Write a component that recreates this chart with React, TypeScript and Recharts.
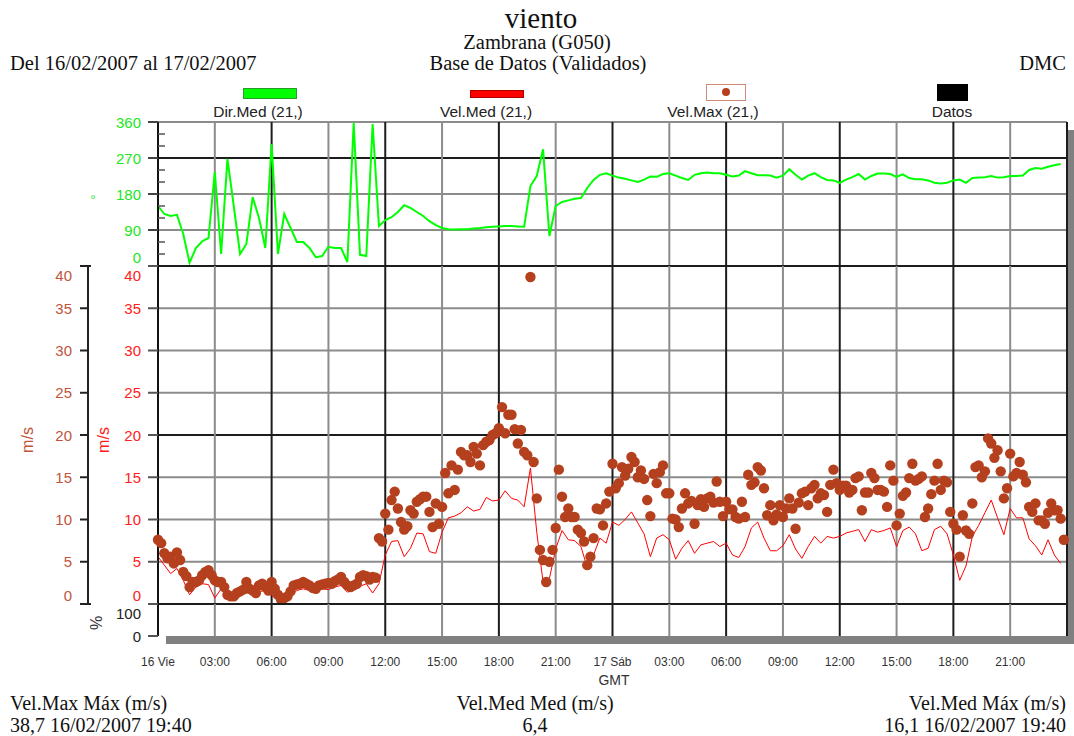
import React from 'react';
import { ComposedChart, Line, Scatter, XAxis, YAxis, CartesianGrid } from 'recharts';

const FONT_SANS = '"Liberation Sans", Arial, sans-serif';
const FONT_SERIF = '"Liberation Serif", "Times New Roman", serif';

const GREEN = '#00ff00';
const GREEN_TXT = '#22e622';
const RED = '#ff0000';
const RED_TXT = '#ff2020';
const BROWN = '#b5401e';
const BROWN_TXT = '#c0553a';
const GRID_DARK = '#1c1c1c';
const GRID_LIGHT = '#8c8c8c';

// eje de tiempo (horas desde 16/02 00:00 GMT)
const hourTicks = [0, 3, 6, 9, 12, 15, 18, 21, 24, 27, 30, 33, 36, 39, 42, 45, 48];
const hourLabels = ['16 Vie', '03:00', '06:00', '09:00', '12:00', '15:00', '18:00', '21:00',
  '17 Sáb', '03:00', '06:00', '09:00', '12:00', '15:00', '18:00', '21:00', ''];

const dirTicks = [0, 30, 60, 90, 120, 150, 180, 210, 240, 270, 300, 330, 360];
const speedTicks = [0, 5, 10, 15, 20, 25, 30, 35, 40];
const pctTicks = [0, 100];

// Dir.Med (grados), cada 20 minutos
const dirMed = [
  150, 130, 125, 128, 80, 8, 45, 62, 70,
  235, 30, 268, 150, 30, 55, 172, 120, 45,
  305, 30, 130, 95, 60, 60, 45, 22, 25,
  48, 45, 45, 10, 358, 28, 25, 355, 100,
  115, 122, 135, 152, 145, 135, 125, 112, 102,
  95, 92, 91, 92, 92, 94, 95, 97, 98,
  99, 100, 100, 99, 98, 200, 225, 292, 75,
  150, 160, 164, 168, 170, 195, 215, 228, 232,
  226, 221, 218, 214, 210, 216, 224, 223, 230,
  232, 226, 220, 215, 228, 232, 234, 232, 232,
  228, 224, 226, 237, 232, 227, 227, 226, 221,
  226, 242, 228, 216, 226, 232, 222, 215, 214,
  208, 216, 222, 230, 216, 225, 231, 231, 230,
  223, 229, 220, 217, 217, 214, 208, 206, 208,
  214, 216, 208, 220, 221, 222, 225, 221, 222,
  225, 225, 226, 240, 245, 243, 248, 252, 255,
];

// Vel.Med (m/s), cada 20 minutos
const velMed = [
  5.6, 4.6, 3.6, 4.2, 2.8, 1.1, 2.0, 2.4, 2.3,
  0.7, 1.8, 1.1, 0.9, 1.4, 1.8, 1.2, 1.3, 1.8,
  1.0, 0.5, 0.5, 0.9, 1.6, 1.8, 1.6, 1.5, 1.8,
  1.7, 2.0, 2.2, 1.4, 1.7, 2.1, 2.4, 1.3, 2.4,
  5.8, 7.4, 7.5, 5.6, 6.6, 8.4, 8.3, 6.2, 6.0,
  8.5, 10.2, 10.4, 10.8, 11.5, 11.0, 11.2, 12.6, 12.2,
  12.3, 13.4, 12.5, 12.3, 11.5, 16.1, 8.5, 2.6, 3.0,
  6.5, 8.7, 7.6, 7.5, 6.8, 4.3, 5.8, 7.8, 7.2,
  9.7, 9.3, 10.0, 10.9, 9.6, 8.3, 5.6, 7.8, 8.2,
  7.6, 5.3, 6.6, 7.5, 6.0, 7.0, 7.2, 7.4, 6.8,
  7.2, 5.8, 5.5, 6.8, 9.0, 9.7, 7.8, 6.3, 6.3,
  6.9, 8.2, 6.5, 5.4, 6.8, 8.0, 7.2, 8.0, 7.8,
  8.0, 8.4, 8.6, 8.8, 7.4, 8.8, 8.5, 8.7, 9.0,
  6.8, 8.7, 9.1, 8.3, 6.3, 6.6, 8.8, 9.2, 8.3,
  5.8, 2.8, 4.5, 8.0, 9.3, 10.8, 12.3, 10.2, 8.2,
  11.3, 10.2, 10.2, 7.7, 6.9, 5.8, 7.6, 5.8, 4.8,
];

// Vel.Max (m/s), cada 10 minutos
const velMax = [
  7.6, 7.2, 6.0, 5.4, 5.6, 4.8, 6.1, 5.2, 3.8, 3.3, 2.0, 2.6, 2.6, 2.8, 3.4, 3.8, 4.0, 3.4,
  2.8, 2.6, 2.6, 2.0, 1.1, 0.9, 0.9, 1.3, 1.5, 1.7, 2.6, 1.8, 1.6, 1.3, 2.2, 2.4, 2.0, 1.6,
  2.6, 1.8, 1.1, 0.5, 0.7, 0.9, 1.5, 2.2, 2.3, 2.4, 2.6, 2.4, 2.2, 1.9, 1.8, 2.2, 2.3, 2.4,
  2.5, 2.4, 2.7, 2.9, 3.2, 2.6, 2.2, 2.0, 2.2, 2.4, 3.2, 3.4, 3.3, 2.9, 3.2, 3.1, 7.8, 7.4,
  10.7, 8.8, 12.3, 13.3, 11.3, 9.7, 8.8, 9.2, 11.1, 10.7, 12.1, 12.4, 12.7, 12.7, 10.9, 9.1, 11.9, 9.5,
  11.5, 15.5, 13.1, 16.4, 13.5, 15.9, 18.0, 17.6, 17.6, 16.8, 18.6, 17.8, 16.4, 18.8, 19.2, 19.4, 20.0, 20.2,
  20.8, 23.3, 20.2, 22.4, 22.4, 20.7, 19.0, 20.6, 18.0, 17.6, 38.7, 16.8, 12.5, 6.4, 5.2, 2.6, 5.0, 6.4,
  9.0, 15.9, 12.7, 10.3, 11.3, 10.3, 10.3, 8.8, 8.4, 7.4, 4.6, 5.6, 7.8, 11.3, 11.2, 9.3, 11.9, 13.3,
  16.6, 13.7, 14.3, 16.2, 15.2, 16.0, 17.4, 16.8, 15.0, 15.8, 14.8, 12.3, 10.4, 15.4, 14.3, 15.6, 16.4, 13.1,
  13.1, 10.1, 10.0, 9.1, 11.3, 13.1, 11.9, 12.2, 9.5, 11.7, 12.4, 11.5, 12.5, 12.7, 12.0, 14.5, 12.1, 10.4,
  12.1, 11.2, 11.2, 10.3, 10.1, 12.1, 10.3, 15.3, 14.1, 14.4, 16.2, 15.8, 13.7, 10.5, 11.7, 9.9, 10.6, 11.7,
  10.3, 11.3, 12.5, 11.3, 8.9, 12.0, 13.1, 13.3, 11.7, 13.7, 14.1, 12.5, 13.1, 12.9, 10.9, 14.1, 15.9, 14.3,
  13.5, 14.0, 14.0, 13.2, 13.5, 14.9, 15.1, 11.1, 13.2, 13.2, 15.5, 14.9, 13.5, 13.5, 13.3, 11.5, 16.4, 14.6,
  9.3, 10.7, 12.8, 13.2, 14.9, 16.6, 14.6, 14.8, 15.1, 10.3, 11.3, 13.0, 14.6, 16.6, 13.5, 14.6, 14.4, 10.9,
  9.5, 8.8, 5.6, 10.5, 8.7, 8.3, 11.9, 16.2, 16.4, 15.0, 15.7, 19.6, 19.0, 17.3, 18.2, 15.7, 12.5, 13.7,
  17.8, 15.1, 15.5, 16.8, 15.3, 14.4, 11.5, 10.9, 11.9, 9.9, 9.9, 9.5, 10.8, 11.9, 11.1, 11.1, 10.1, 7.6,
];

const dirData = dirMed.map((v, i) => ({ t: i / 3, v }));
const medData = velMed.map((v, i) => ({ t: i / 3, v }));
const maxData = velMax.map((v, i) => ({ t: i / 6, v }));
const timeFrame = hourTicks.map((t) => ({ t }));

const W = 1074;
const PLOT_LEFT = 158;
const MARGIN_RIGHT = 7;

// lineas de rejilla: oscuras cada 6 h, grises cada 3 h
const verticalLine = (p: any) => {
  const h = hourTicks[p.index];
  if (h === undefined) return <g />;
  return (
    <line x1={p.x1} y1={p.y1} x2={p.x2} y2={p.y2}
      stroke={h % 6 === 0 ? GRID_DARK : GRID_LIGHT} strokeWidth={2} />
  );
};

const makeHorizontal = (ticks: number[], darkVals: number[], skip: (v: number) => boolean) =>
  (p: any) => {
    const v = ticks[p.index];
    if (v === undefined || skip(v)) return <g />;
    return (
      <line x1={p.x1} y1={p.y1} x2={p.x2} y2={p.y2}
        stroke={darkVals.includes(v) ? GRID_DARK : GRID_LIGHT} strokeWidth={2} />
    );
  };

const DirTick = (p: any) => {
  const v = p.payload.value;
  const ax = p.x + 17;
  if (v % 90 !== 0) {
    return <line x1={ax} x2={ax + 7} y1={p.y} y2={p.y} stroke="#555" strokeWidth={1.5} />;
  }
  return (
    <g>
      <line x1={ax - 10} x2={ax} y1={p.y} y2={p.y} stroke="#444" strokeWidth={2} />
      <text x={p.x} y={p.y + (v === 0 ? -9 : 0)} textAnchor="end" dominantBaseline="central"
        fill={GREEN_TXT} fontSize={15}>{v}</text>
    </g>
  );
};

const speedTick = (color: string) => (p: any) => {
  const v = p.payload.value;
  const shift = v === 40 ? 9 : v === 0 ? -9 : 0;
  return (
    <text x={p.x} y={p.y + shift} textAnchor="end" dominantBaseline="central"
      fill={color} fontSize={15}>{v}</text>
  );
};

const PctTick = (p: any) => {
  const v = p.payload.value;
  return (
    <text x={p.x} y={p.y + (v === 100 ? 9 : 0)} textAnchor="end" dominantBaseline="central"
      fill="#222" fontSize={15}>{v}</text>
  );
};

const MaxDot = (p: any) => <circle cx={p.cx} cy={p.cy} r={5.2} fill={BROWN} />;

type TxtProps = {
  x: number; y: number; children: React.ReactNode; align?: 'left' | 'center' | 'right';
  size?: number; font?: string; color?: string;
};

const Txt = ({ x, y, children, align = 'left', size = 15, font = FONT_SANS, color = '#111' }: TxtProps) => {
  const tx = align === 'left' ? '0' : align === 'center' ? '-50%' : '-100%';
  return (
    <div style={{
      position: 'absolute', left: x, top: y, fontSize: size, fontFamily: font, color,
      lineHeight: 1, whiteSpace: 'nowrap', transform: `translate(${tx}, -50%)`,
    }}>{children}</div>
  );
};

const Rotated = ({ x, y, children, size = 16, color }: { x: number; y: number; children: React.ReactNode; size?: number; color: string }) => (
  <div style={{
    position: 'absolute', left: x, top: y, fontSize: size, fontFamily: FONT_SANS, color,
    lineHeight: 1, whiteSpace: 'nowrap', transform: 'translate(-50%, -50%) rotate(-90deg)',
  }}>{children}</div>
);

export default function App() {
  return (
    <div style={{ position: 'absolute', left: 0, top: 0, width: W, height: 736, background: '#fff', overflow: 'hidden', fontFamily: FONT_SANS }}>
      {/* cabecera */}
      <Txt x={541} y={18} align="center" size={29} font={FONT_SERIF}>viento</Txt>
      <Txt x={537} y={42} align="center" size={20.5} font={FONT_SERIF}>Zambrana (G050)</Txt>
      <Txt x={538} y={63} align="center" size={20.5} font={FONT_SERIF}>Base de Datos (Validados)</Txt>
      <Txt x={10} y={63} size={20.5} font={FONT_SERIF}>Del 16/02/2007 al 17/02/2007</Txt>
      <Txt x={1066} y={63} align="right" size={20.5} font={FONT_SERIF}>DMC</Txt>

      {/* leyenda */}
      <div style={{ position: 'absolute', left: 243, top: 88, width: 52, height: 9, background: GREEN, border: '1px solid #2a9a2a' }} />
      <div style={{ position: 'absolute', left: 470, top: 90, width: 52, height: 6, background: RED, border: '1px solid #a00' }} />
      <div style={{ position: 'absolute', left: 706, top: 84, width: 38, height: 15, background: '#fff', border: '1px solid #d08a78' }}>
        <div style={{ position: 'absolute', left: 15, top: 3, width: 8, height: 8, borderRadius: '50%', background: BROWN }} />
      </div>
      <div style={{ position: 'absolute', left: 937, top: 84, width: 31, height: 17, background: '#000' }} />
      <Txt x={258} y={112} align="center" size={15.5} color="#222">Dir.Med (21,)</Txt>
      <Txt x={486} y={112} align="center" size={15.5} color="#222">Vel.Med (21,)</Txt>
      <Txt x={713} y={112} align="center" size={15.5} color="#222">Vel.Max (21,)</Txt>
      <Txt x={952} y={112} align="center" size={15.5} color="#222">Datos</Txt>

      {/* sombra y fondo del area de trazado */}
      <div style={{ position: 'absolute', left: 166, top: 130, width: 908, height: 514, background: '#808080' }} />
      <div style={{ position: 'absolute', left: PLOT_LEFT, top: 122, width: 909, height: 514, background: '#fff' }} />

      {/* rotulos de ejes */}
      <Txt x={93} y={199} align="center" size={13} color={GREEN_TXT}>°</Txt>
      <Rotated x={28} y={440} color={BROWN_TXT}>m/s</Rotated>
      <Rotated x={104} y={440} color={RED_TXT}>m/s</Rotated>
      <Rotated x={97} y={623} color="#333">%</Rotated>
      <div style={{ position: 'absolute', left: 87, top: 266, width: 2, height: 338, background: '#222' }} />
      <div style={{ position: 'absolute', left: 80, top: 265, width: 11, height: 2, background: '#222' }} />
      <div style={{ position: 'absolute', left: 80, top: 603, width: 11, height: 2, background: '#222' }} />

      {/* direccion */}
      <div style={{ position: 'absolute', left: 0, top: 100 }}>
        <ComposedChart width={W} height={178} margin={{ top: 22, right: MARGIN_RIGHT, bottom: 12, left: 0 }}>
          <CartesianGrid vertical={verticalLine} horizontal={makeHorizontal(dirTicks, [0, 270], (v) => v % 90 !== 0)} />
          <XAxis dataKey="t" type="number" domain={[0, 48]} ticks={hourTicks} hide />
          <YAxis type="number" domain={[0, 360]} ticks={dirTicks} interval={0} width={PLOT_LEFT}
            tickSize={10} tickMargin={7} tickLine={false} tick={DirTick}
            axisLine={{ stroke: '#111', strokeWidth: 2 }} />
          <Line data={dirData} dataKey="v" type="linear" stroke={GREEN} strokeWidth={2}
            dot={false} isAnimationActive={false} />
        </ComposedChart>
      </div>

      {/* velocidad */}
      <div style={{ position: 'absolute', left: 0, top: 244 }}>
        <ComposedChart width={W} height={374} margin={{ top: 22, right: MARGIN_RIGHT, bottom: 14, left: 0 }}>
          <CartesianGrid yAxisId="inner" vertical={verticalLine}
            horizontal={makeHorizontal(speedTicks, [0, 20, 40], () => false)} />
          <XAxis dataKey="t" type="number" domain={[0, 48]} ticks={hourTicks} hide />
          <YAxis yAxisId="outer" type="number" domain={[0, 40]} ticks={speedTicks} interval={0} width={88}
            tickSize={8} tickMargin={8} tick={speedTick(BROWN_TXT)}
            tickLine={{ stroke: '#222', strokeWidth: 2 }} axisLine={false} />
          <YAxis yAxisId="inner" type="number" domain={[0, 40]} ticks={speedTicks} interval={0} width={70}
            tickSize={10} tickMargin={7} tick={speedTick(RED_TXT)}
            tickLine={{ stroke: '#555', strokeWidth: 2 }} axisLine={{ stroke: '#111', strokeWidth: 2 }} />
          <Line yAxisId="inner" data={medData} dataKey="v" type="linear" stroke={RED} strokeWidth={1}
            dot={false} isAnimationActive={false} />
          <Scatter yAxisId="outer" data={maxData} dataKey="v" fill={BROWN} shape={MaxDot}
            isAnimationActive={false} />
        </ComposedChart>
      </div>

      {/* datos % */}
      <div style={{ position: 'absolute', left: 0, top: 590 }}>
        <ComposedChart width={W} height={96} data={timeFrame} margin={{ top: 14, right: MARGIN_RIGHT, bottom: 20, left: 0 }}>
          <CartesianGrid vertical={verticalLine} horizontal={makeHorizontal(pctTicks, [100], (v) => v === 0)} />
          <XAxis dataKey="t" type="number" domain={[0, 48]} ticks={hourTicks} interval={0} height={30}
            tickFormatter={(v: number) => hourLabels[hourTicks.indexOf(v)] ?? ''}
            axisLine={false} tickLine={false} tickSize={0} tickMargin={21}
            tick={{ fontSize: 12, fill: '#333' }} />
          <YAxis dataKey="t" type="number" domain={[0, 100]} ticks={pctTicks} interval={0} width={PLOT_LEFT}
            tickSize={10} tickMargin={7} tick={PctTick}
            tickLine={{ stroke: '#555', strokeWidth: 2 }} axisLine={{ stroke: '#111', strokeWidth: 2 }} />
        </ComposedChart>
      </div>

      <Txt x={614} y={680} align="center" size={14} color="#333">GMT</Txt>

      {/* estadisticas */}
      <Txt x={10} y={703} size={20} font={FONT_SERIF}>Vel.Max Máx (m/s)</Txt>
      <Txt x={10} y={725} size={20} font={FONT_SERIF}>38,7 16/02/2007 19:40</Txt>
      <Txt x={535} y={703} align="center" size={20} font={FONT_SERIF}>Vel.Med Med (m/s)</Txt>
      <Txt x={535} y={725} align="center" size={20} font={FONT_SERIF}>6,4</Txt>
      <Txt x={1066} y={703} align="right" size={20} font={FONT_SERIF}>Vel.Med Máx (m/s)</Txt>
      <Txt x={1066} y={725} align="right" size={20} font={FONT_SERIF}>16,1 16/02/2007 19:40</Txt>
    </div>
  );
}
